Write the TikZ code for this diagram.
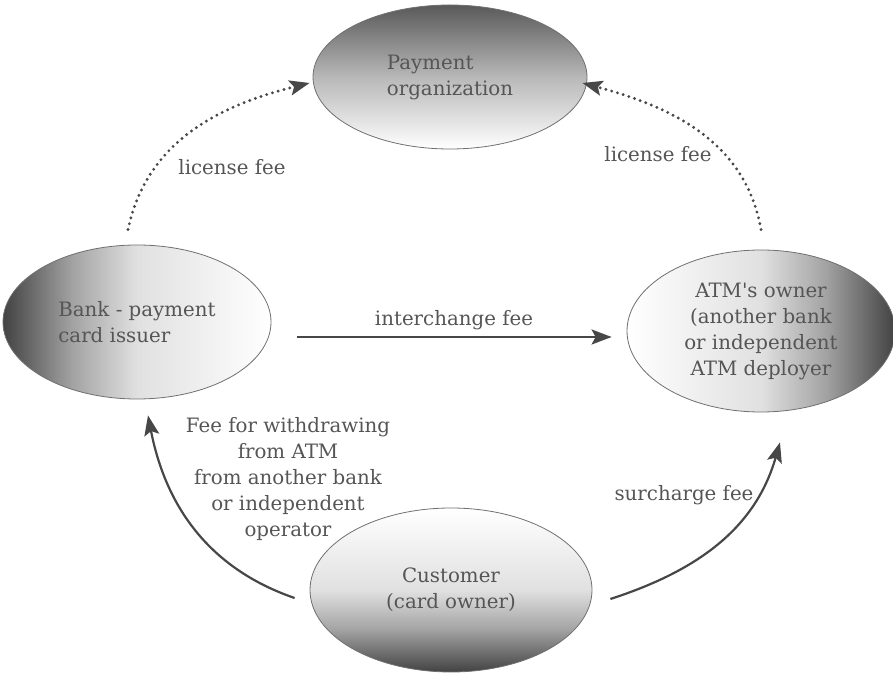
\documentclass[tikz,border=0pt]{standalone}
\usepackage{fontspec}
\setmainfont{DejaVu Serif}
\usepackage{tikz}
\usetikzlibrary{shapes.geometric,arrows.meta}
\definecolor{inkgray}{HTML}{555555}
\definecolor{linegray}{HTML}{474747}
\definecolor{rimgray}{HTML}{707070}
% dark at the top, light at the bottom (the box is mapped to 25bp--75bp)
\pgfdeclareverticalshading{sidefade}{100bp}{color(0bp)=(white); color(25bp)=(white);
  color(50bp)=(black!12); color(62bp)=(black!36); color(75bp)=(black!74); color(100bp)=(black!74)}
\pgfdeclareverticalshading{topfade}{100bp}{color(0bp)=(white); color(25bp)=(white);
  color(50bp)=(black!28); color(75bp)=(black!65); color(100bp)=(black!65)}

\begin{document}
\begin{tikzpicture}[
      x=1pt,y=1pt,
      party/.style={ellipse,draw=rimgray,line width=0.8pt,inner sep=0pt,text=inkgray,
        font=\fontsize{19.8}{26}\selectfont},
      feetext/.style={text=inkgray,font=\fontsize{19.8}{26}\selectfont,inner sep=0pt},
      license/.style={line width=3.2pt,color=linegray,dash pattern=on 0pt off 6pt,line cap=round,
        -{Stealth[length=20pt,width=15pt,inset=4pt]}},
      fee/.style={line width=2.2pt,color=linegray,-{Stealth[length=20pt,width=15pt,inset=4pt]}}
    ]
    \useasboundingbox (0,0) rectangle (893,672);
    % Draw the parties.
    \node[party,minimum width=274,minimum height=144,align=left,
      shading=topfade] (pay) at (450,595)
      {Payment\\organization};
    \node[party,minimum width=268,minimum height=154,align=left,
      shading=sidefade,shading angle=90] (bank) at (137,350)
      {Bank - payment\\card issuer};
    \node[party,minimum width=268,minimum height=162,align=center,
      shading=sidefade,shading angle=-90] (atm) at (761,341)
      {ATM\textquotesingle s owner\\(another bank\\or independent\\ATM deployer};
    \node[party,minimum width=282,minimum height=164,align=center,
      shading=sidefade,shading angle=180] (cust) at (451,82)
      {Customer\\(card owner)};
    % Draw the license fees.
    \draw[license] ([xshift=-9pt,yshift=15pt]bank.north) to[out=78,in=194]
      ([xshift=-3pt,yshift=-6pt]pay.west);
    \draw[license] ([yshift=20pt]atm.north) to[out=100,in=-15]
      ([xshift=-5pt,yshift=-6pt]pay.east);
    % Draw the interchange fee.
    \draw[fee] ([xshift=26pt,yshift=-15pt]bank.east) -- ([xshift=-15pt,yshift=-6pt]atm.west);
    % Draw the customer fees.
    \draw[fee] ([xshift=-15pt,yshift=-8pt]cust.west) to[out=161,in=-79]
      ([xshift=11pt,yshift=-16pt]bank.south);
    \draw[fee] ([xshift=18pt,yshift=-9pt]cust.east) to[out=18,in=-106]
      ([xshift=19pt,yshift=-30pt]atm.south);
    % Draw the labels.
    \node[feetext,anchor=base] (licL) at (232,497) {license fee};
    \node[feetext,anchor=base] (licR) at (658,510) {license fee};
    \node[feetext,anchor=base] (inter) at (454,346) {interchange fee};
    \node[feetext,align=center] (withdraw) at (288,193)
      {Fee for withdrawing\\from ATM\\from another bank\\or independent\\operator};
    \node[feetext,anchor=base] (surch) at (684,172) {surcharge fee};
\end{tikzpicture}
\end{document}
